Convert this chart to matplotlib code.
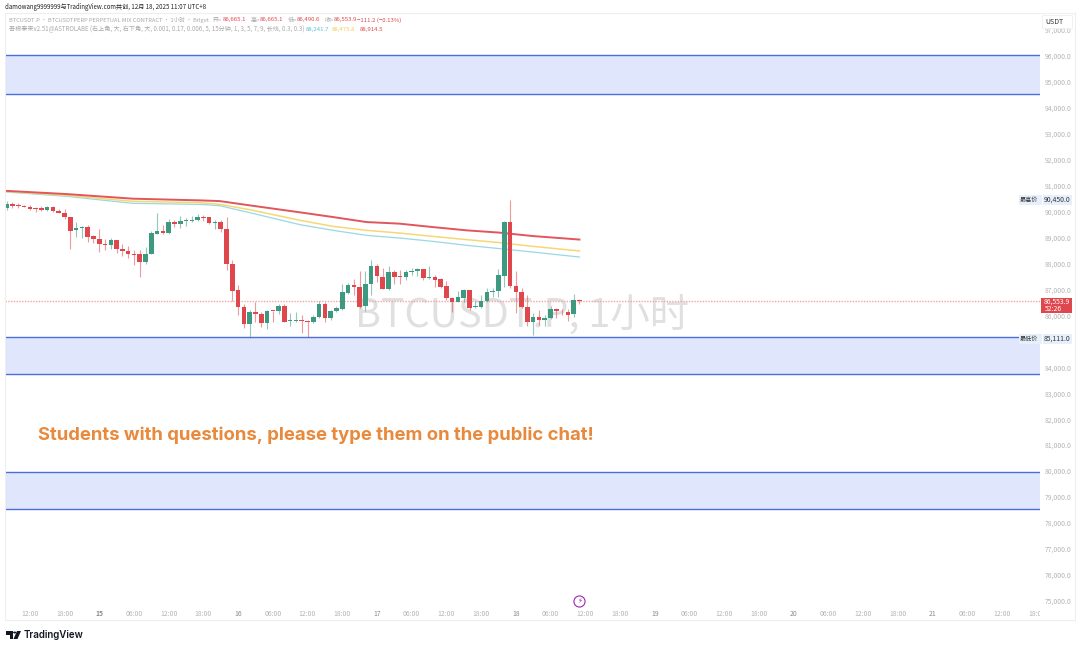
import numpy as np
import matplotlib
matplotlib.use('Agg')
import matplotlib.pyplot as plt
from matplotlib.patches import Rectangle, Polygon, Circle

plt.rcParams['font.family'] = ['Noto Sans CJK SC', 'DejaVu Sans']

# candles, one per hour
opens = [90141,90269,90243,90218,90179,90128,90115,90038,90179,90025,
         89948,89782,89269,89346,89410,89038,88936,88756,88705,88897,
         88564,88461,88372,88346,88064,88346,89141,89230,89166,89590,
         89513,89628,89615,89654,89756,89769,89538,89602,89333,87961,
         86961,86320,85667,86115,86051,85692,86179,86179,86359,85769,
         85795,85833,85795,85744,85936,86423,85885,86179,86244,86872,
         87154,87102,86346,87192,87884,87487,87025,87679,87500,87461,
         87666,87692,87782,87423,87474,87384,87115,86679,86525,86679,
         86961,86308,86320,86538,86884,86923,87513,89577,87141,86910,
         86333,85731,85949,85808,85885,86256,86179,86141,86038,86602]
highs = [90397,90359,90320,90243,90256,90166,90192,90205,90218,90077,
         90077,89782,89590,89436,89487,89102,89307,88936,88987,88897,
         88756,88654,88525,88525,88615,89243,89936,89461,89718,89654,
         89807,89756,89807,89910,89872,89782,89679,89654,89782,88115,
         87154,86423,86192,86500,86128,86218,86179,86423,86448,86090,
         86128,86000,85833,86000,86538,86513,86218,86346,87218,87243,
         87384,87705,87705,88115,87987,87833,87910,87756,87730,87756,
         87833,87833,87795,87884,87538,87436,87320,86705,86923,87025,
         86961,86551,86769,87064,87064,87782,89628,90450,87705,87038,
         86769,86090,86192,86000,86346,86282,86256,86256,86807,86630]
lows = [90038,90141,90141,90154,90038,89974,90013,90013,89974,89923,
        89692,88551,89013,88974,88820,88795,88423,88525,88564,88397,
        88282,88218,87936,87474,87987,88346,89141,89141,89141,89397,
        89372,89423,89590,89628,89628,89525,89333,89205,87756,86551,
        86000,85513,85111,85756,85551,85461,85743,86064,85743,85602,
        85743,85320,85167,85705,85910,85756,85833,86115,86218,86833,
        86769,86295,86167,86769,87295,87025,86987,87218,87218,87372,
        87538,87500,87346,87397,87090,87064,86603,86128,86500,86513,
        86218,86269,86282,86513,86705,86705,87090,87064,86090,86295,
        85577,85244,85615,85603,85859,85885,86000,85782,85936,86423]
closes = [90269,90218,90218,90166,90102,90102,90051,90179,90013,89948,
          89782,89256,89346,89410,89025,88923,88743,88705,88897,88551,
          88461,88346,88333,88051,88346,89166,89230,89154,89577,89500,
          89628,89666,89679,89769,89743,89551,89590,89320,87961,86936,
          86308,85667,86115,86038,85692,86166,86166,86359,85756,85808,
          85833,85769,85744,85949,86423,85885,86179,86269,86884,87154,
          87090,86333,87192,87884,87500,87025,87679,87474,87461,87666,
          87705,87782,87423,87474,87372,87102,86654,86525,86692,86961,
          86295,86346,86538,86897,86936,87538,89577,87115,86910,86320,
          85731,85949,85808,85910,86256,86166,86154,86025,86602,86553.9]

# the three moving averages, read at these candle positions
ema_x = [-0.3,10.4,21.8,33.4,36.8,42,50.7,56.4,62.2,67.9,73.6,79.5,85.2,90.9,99]
ema_red = [90792,90665,90488,90423,90396,90231,89962,89781,89588,89527,89396,89269,89181,89050,88914.5]
ema_yellow = [90769,90615,90385,90335,90269,90065,89654,89423,89269,89165,89038,88912,88796,88654,88475.8]
ema_blue = [90750,90577,90308,90269,90219,89950,89488,89269,89077,88973,88846,88692,88565,88435,88241.7]

# supply / demand zones (top, bottom)
zones = [(96038,94537),(85163,83738),(79966,78541)]

last_price = 86553.9
y_ticks = list(range(75000,98000,1000))
x_labels = ['12:00','18:00','15','06:00','12:00','18:00','16','06:00','12:00','18:00','17',
            '06:00','12:00','18:00','18','06:00','12:00','18:00','19','06:00','12:00','18:00',
            '20','06:00','12:00','18:00','21','06:00','12:00','18:00']

RED = '#e0474c'
GREEN = '#3d9a80'
W = 1080
H = 650

def fx(x):
    return x/W
def fy(y):
    return 1-y/H

fig = plt.figure(figsize=(10.8,6.5),dpi=100,facecolor='white')
ax = fig.add_axes([5/W,1-620/H,1035/W,607/H])
ax.set_xlim(-0.29,178.6)
ax.set_ylim(74269,97636)
for s in ax.spines.values():
    s.set_visible(False)
ax.patch.set_alpha(0)

# zones
for top,bottom in zones:
    ax.axhspan(bottom,top,color='#e0e6fb',lw=0,zorder=1)
    ax.axhline(top,color='#4a6fdc',lw=1,zorder=2)
    ax.axhline(bottom,color='#4a6fdc',lw=1,zorder=2)

# watermark
fig.text(fx(355),fy(328),'BTCUSDT.P, 1小时',fontsize=28.4,color='#e0e0e0',ha='left',va='baseline',zorder=-1)

# last price line
ax.axhline(last_price,color='#f7a3a5',lw=1,ls=(0,(1,1)),zorder=2)

# moving averages
ax.plot(ema_x,ema_blue,color='#9ad8e4',lw=0.9,zorder=3)
ax.plot(ema_x,ema_yellow,color='#f5d876',lw=1.1,zorder=3)
ax.plot(ema_x,ema_red,color='#e0565a',lw=1.4,zorder=3)

# candles
o = np.array(opens)
c = np.array(closes)
xs = np.arange(len(o))
colors = [GREEN if b > a else RED for a,b in zip(o,c)]
ax.vlines(xs,lows,highs,colors=colors,lw=0.8,alpha=0.55,zorder=4)
ax.bar(xs,np.maximum(np.abs(c-o),25),bottom=np.minimum(o,c),width=0.78,color=colors,lw=0,zorder=5)

# axes, 85,000 sits behind the low price label in the original
ax.yaxis.tick_right()
ax.set_yticks(y_ticks,['' if v == 85000 else '{:,.1f}'.format(v) for v in y_ticks])
ax.tick_params(axis='y',length=0,pad=3.5,labelsize=4.9,labelcolor='#b4b4b4')
ax.set_xticks(np.arange(len(x_labels))*6+4,x_labels)
ax.tick_params(axis='x',length=0,pad=-7.5,labelsize=4.9,labelcolor='#b4b4b4')
for lab in ax.get_xticklabels():
    lab.set_clip_box(ax.bbox)
    lab.set_clip_on(True)
    if ':' not in lab.get_text():
        lab.set_color('#8a8a8a')
ax.get_xticklabels()[2].set_fontweight('bold')

# orange note
fig.text(fx(38),fy(435.5),'Students with questions, please type them on the public chat!',
         fontsize=13.3,fontweight='bold',color='#e8893c',family=['Inter','DejaVu Sans'],va='center',zorder=6)

# frame around the chart and price scale
fig.add_artist(Rectangle((fx(5),fy(620)),1070/W,607/H,fill=False,ec='#efefef',lw=0.8,transform=fig.transFigure))

# header
fig.text(fx(5),fy(7),'damowang9999999与TradingView.com共创, 12月 18, 2025 11:07 UTC+8',fontsize=4.4,color='#222222',va='center')
GREY = '#a8a8a8'
fig.text(fx(9),fy(20),'BTCUSDT.P · BTCUSDTPERP PERPETUAL MIX CONTRACT · 1小时 · Bitget',fontsize=4.1,color=GREY,va='center')
for x,t,col in [(213,'开=',GREY),(223,'86,665.1',RED),(251,'高=',GREY),(260,'86,665.1',RED),
                (288,'低=',GREY),(297,'86,490.6',RED),(325,'收=',GREY),(334,'86,553.9',RED),(357,'−111.2 (−0.13%)',RED)]:
    fig.text(fx(x),fy(20),t,fontsize=4.3,color=col,va='center')
fig.text(fx(9),fy(29),'吾根泰来v2.51@ASTROLABE (右上角, 大, 右下角, 大, 0.001, 0.17, 0.006, 5, 15分钟, 1, 3, 5, 7, 9, 长线, 0.3, 0.3)',
         fontsize=4.4,color=GREY,va='center')
for x,t,col in [(306,'88,241.7','#5cc0d6'),(332,'88,475.8','#f0cc5a'),(360,'88,914.5',RED)]:
    fig.text(fx(x),fy(29),t,fontsize=4.3,color=col,va='center')

# USDT box
fig.add_artist(Rectangle((fx(1042),fy(28)),30/W,13/H,fc='white',ec='#efefef',lw=0.6,transform=fig.transFigure,zorder=6))
fig.text(fx(1054),fy(21.5),'USDT',fontsize=5,color='#333333',ha='center',va='center',zorder=7)

# price labels
for y,name,val in [(200,'最高价','90,450.0'),(339,'最低价','85,111.0')]:
    fig.add_artist(Rectangle((fx(1019),fy(y+5)),23/W,10/H,fc='#e6f0fa',ec='none',transform=fig.transFigure,zorder=6))
    fig.add_artist(Rectangle((fx(1043),fy(y+5)),29/W,10/H,fc='#e6f0fa',ec='none',transform=fig.transFigure,zorder=6))
    fig.text(fx(1029),fy(y),name,fontsize=4.4,color='#333333',ha='center',va='center',zorder=7)
    fig.text(fx(1057.5),fy(y),val,fontsize=4.9,color='#333333',ha='center',va='center',zorder=7)
fig.add_artist(Rectangle((fx(1041),fy(313)),31/W,15/H,fc=RED,ec='none',transform=fig.transFigure,zorder=6))
fig.text(fx(1057),fy(301.5),'86,553.9',fontsize=4.9,color='white',ha='center',va='center',zorder=7)
fig.text(fx(1053),fy(308.5),'52:26',fontsize=4.9,color='white',ha='center',va='center',zorder=7)

# event marker
ax.plot([99],[75000],marker='o',ms=8,mfc='white',mec='#9c27b0',mew=0.8,zorder=6,clip_on=False)
ax.text(99,75000,'⚡',fontsize=5,color='#9c27b0',ha='center',va='center',family='DejaVu Sans',zorder=7)

# TradingView logo
dark = '#131722'
for pts in [[(6,631),(13,631),(13,639),(10,639),(10,635),(6,635)],
            [(17,631),(21,631),(17.5,639),(13.5,639)]]:
    fig.add_artist(Polygon([(fx(a),fy(b)) for a,b in pts],closed=True,fc=dark,ec='none',transform=fig.transFigure))
fig.add_artist(Circle((14.7/W,fy(632.5)),1.6/W,fc=dark,ec='none',transform=fig.transFigure))
fig.text(fx(24),fy(635),'TradingView',fontsize=7,fontweight='semibold',color=dark,family=['Inter','DejaVu Sans'],va='center')

fig.savefig('out.png',dpi=100)
